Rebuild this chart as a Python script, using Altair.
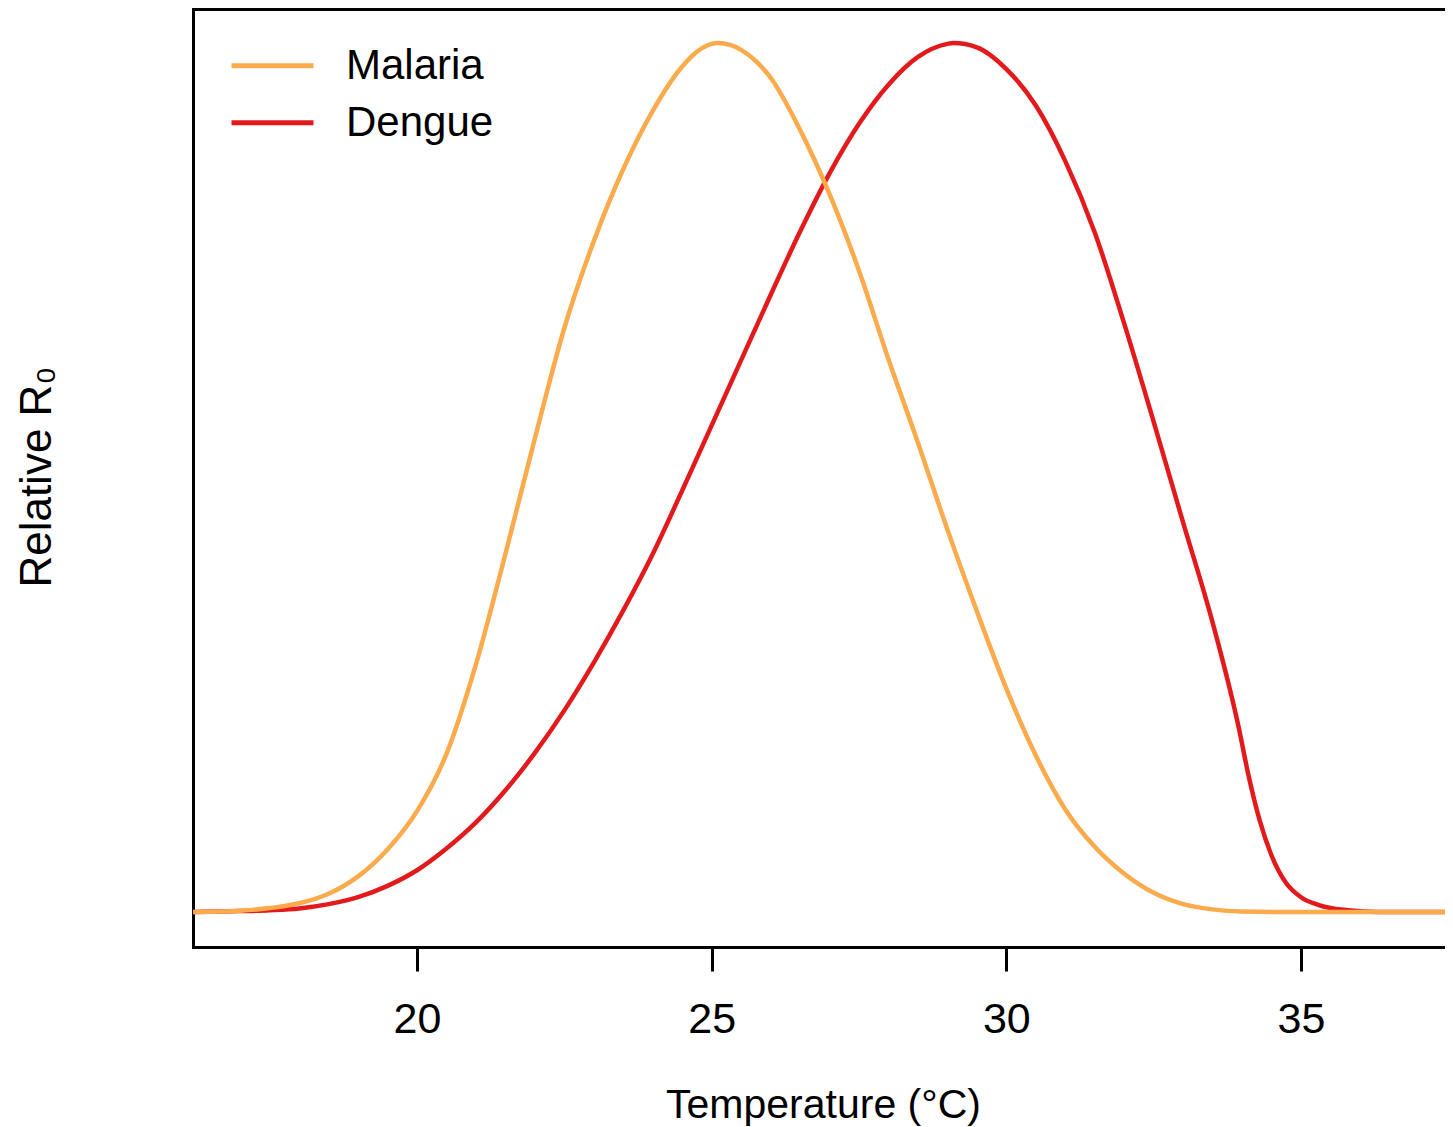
import altair as alt
import pandas as pd

# ---- data ----
malaria_temp = [16.2, 17.0, 17.5, 18.0, 18.5, 19.0, 19.5, 20.0, 20.5, 21.0, 21.5, 22.0,
                22.5, 23.0, 23.5, 24.0, 24.5, 24.75, 25.0, 25.1, 25.3, 25.5, 25.75, 26.0,
                26.5, 27.0, 27.5, 28.0, 28.5, 29.0, 29.5, 30.0, 30.5, 31.0, 31.5, 32.0,
                32.5, 33.0, 33.5, 34.0, 34.5, 36.0, 37.6]
malaria_r0 = [0.0, 0.0015, 0.0045, 0.01, 0.021, 0.041, 0.072, 0.116, 0.182, 0.285, 0.412, 0.545,
              0.672, 0.772, 0.855, 0.922, 0.973, 0.99, 0.999, 1.0, 0.998, 0.992, 0.979, 0.96,
              0.9, 0.826, 0.738, 0.636, 0.54, 0.44, 0.346, 0.257, 0.18, 0.118, 0.075, 0.044,
              0.022, 0.009, 0.003, 0.0005, 0.0, 0.0, 0.0]

dengue_temp = [16.2, 17.0, 17.5, 18.0, 18.5, 19.0, 19.5, 20.0, 20.5, 21.0, 21.5, 22.0,
               22.5, 23.0, 23.5, 24.0, 24.5, 25.0, 25.5, 26.0, 26.5, 27.0, 27.5, 28.0,
               28.5, 29.0, 29.1, 29.5, 30.0, 30.5, 31.0, 31.5, 32.0, 32.5, 33.0, 33.5,
               33.95, 34.1, 34.3, 34.5, 34.75, 35.0, 35.3, 35.8, 36.3, 37.6]
dengue_r0 = [0.0, 0.001, 0.002, 0.004, 0.009, 0.017, 0.03, 0.048, 0.073, 0.103, 0.14, 0.183,
             0.232, 0.287, 0.347, 0.412, 0.485, 0.56, 0.635, 0.71, 0.783, 0.85, 0.907, 0.952,
             0.984, 0.999, 1.0, 0.995, 0.97, 0.928, 0.864, 0.782, 0.677, 0.564, 0.448, 0.333,
             0.21, 0.16, 0.105, 0.065, 0.033, 0.017, 0.008, 0.002, 0.0, 0.0]

series_names = ["Malaria", "Dengue"]
series_colors = ["#FBAA4C", "#E31A1C"]
x_ticks = [20, 25, 30, 35]
x_domain = [16.199, 37.443]
y_domain = [-0.0403, 1.0391]

mal_df = pd.DataFrame({"T": malaria_temp, "R": malaria_r0, "series": "Malaria"})
den_df = pd.DataFrame({"T": dengue_temp, "R": dengue_r0, "series": "Dengue"})

FONT = "Liberation Sans"
W, H = 1252, 938

x_scale = alt.Scale(domain=x_domain, nice=False, zero=False)
y_scale = alt.Scale(domain=y_domain, nice=False, zero=False)
color_scale = alt.Scale(domain=series_names, range=series_colors)

x_axis = alt.Axis(
    orient="bottom", values=x_ticks, format="d", grid=False,
    domain=True, domainColor="black", domainWidth=3, domainCap="square",
    ticks=True, tickSize=24, tickWidth=3, tickColor="black",
    labelFontSize=43, labelColor="black", labelFont=FONT,
    labelBaseline="alphabetic", labelPadding=61, labelFlush=False, labelOverlap=False,
    title="Temperature (°C)", titleFontSize=41, titleFont=FONT, titleFontWeight="normal",
    titleColor="black", titleBaseline="alphabetic", titleY=170, titleX=630,
)
y_axis = alt.Axis(
    orient="left", labels=False, ticks=False, grid=False,
    domain=True, domainColor="black", domainWidth=3, domainCap="square",
    title="Relative R₀", titleFontSize=44, titleFont=FONT, titleFontWeight="normal",
    titleColor="black", titleX=-143, titleY=467.5, titleBaseline="alphabetic",
    titleAngle=270, titleAlign="center",
)
top_axis = alt.Axis(
    orient="top", labels=False, ticks=False, grid=False, title="",
    domain=True, domainColor="black", domainWidth=3, domainCap="square",
)
legend = alt.Legend(
    orient="none", legendX=36, legendY=28.5, title=None,
    symbolType="stroke", symbolSize=6724, symbolStrokeWidth=5,
    clipHeight=56.5, rowPadding=0, labelOffset=30,
    labelFontSize=42, labelFont=FONT, labelColor="black", labelLimit=400,
    padding=0, symbolOpacity=1,
)


def series_line(df):
    return alt.Chart(df).mark_line(strokeWidth=4.5, clip=True, interpolate="monotone").encode(
        x=alt.X("T:Q", scale=x_scale, axis=x_axis),
        y=alt.Y("R:Q", scale=y_scale, axis=y_axis),
        color=alt.Color("series:N", scale=color_scale, legend=legend),
    )


inner = alt.layer(series_line(den_df), series_line(mal_df))

top = alt.Chart(mal_df).mark_line(opacity=0).encode(
    x=alt.X("T:Q", scale=x_scale, axis=top_axis),
    y=alt.Y("R:Q", scale=y_scale, axis=y_axis),
)

chart = (
    alt.layer(inner, top)
    .resolve_axis(x="independent")
    .properties(
        width=W, height=H,
        autosize=alt.AutoSizeParams(type="none"),
        padding={"left": 185, "top": 1, "right": 0, "bottom": 180},
    )
    .configure(font=FONT)
    .configure_view(stroke=None)
)

chart.save("out.html", embed_options={"renderer": "svg", "actions": False})
